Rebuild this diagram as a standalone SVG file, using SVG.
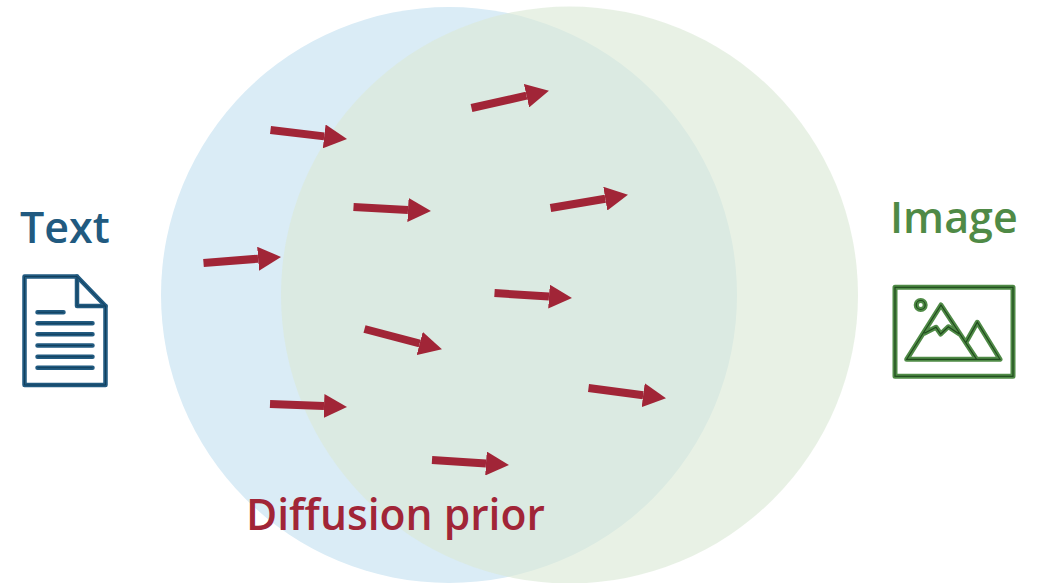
<svg xmlns="http://www.w3.org/2000/svg" width="1045" height="583" viewBox="0 0 1045 583">
<style>
text{font-family:"Open Sans","Noto Sans","DejaVu Sans",sans-serif;font-weight:600}
.a{stroke:#a12537;stroke-width:8;fill:none;marker-end:url(#h)}
.ds,.is{fill:none;stroke-linejoin:round;stroke-linecap:round}
.ds{stroke:#215a80;stroke-width:4.500}
.dt{fill:none;stroke:#123f5c;stroke-width:1}
.is{stroke:#4f8a46;stroke-width:5}
.it{fill:none;stroke:#1f4a1c;stroke-width:1.200}
</style>
<defs>
<marker id="h" markerUnits="userSpaceOnUse" markerWidth="24" markerHeight="24" refX="0" refY="12" orient="auto" viewBox="0 0 24 24"><path d="M0 0L23 12L0 24Z" fill="#a12537"/></marker>
<g id="docp"><path d="M24.5 276.5H77L105.5 306V385H24.5Z"/><path d="M77 276.5V306H105.5"/><path d="M37.500 312.300H63.500M37.500 323.300H92.500M37.500 334.300H92.500M37.500 345.500H92.500M37.500 356.700H92.500M37.500 367.700H92.500"/></g>
<g id="imgp"><rect x="895" y="287.300" width="118" height="89"/><circle cx="920.700" cy="305" r="4.500"/><path d="M906.700 359.300L941 305L976.700 359.300ZM966 342.300L977.300 322.300L1000 359.300H976.700M924.300 333.300L936 327.300L940.700 334L948.300 326.700L959.300 334"/></g>
</defs>
<g id="circles">
<circle id="blue-circle" cx="449" cy="295" r="288" fill="#daecf6"/>
<circle id="green-circle" cx="569.500" cy="295" r="288.500" fill="#dbe9d6" fill-opacity=".64"/>
</g>
<g id="connectors">
<line class="a" x1="270.500" y1="130" x2="324.200" y2="136.400"/>
<line class="a" x1="471.500" y1="108" x2="526.500" y2="95.700"/>
<line class="a" x1="353.500" y1="207" x2="408" y2="209.900"/>
<line class="a" x1="550.500" y1="208" x2="605.300" y2="198.700"/>
<line class="a" x1="203.500" y1="263" x2="258.100" y2="258.700"/>
<line class="a" x1="494.500" y1="293" x2="549" y2="296.600"/>
<line class="a" x1="364.500" y1="329" x2="419.700" y2="343.500"/>
<line class="a" x1="270" y1="404" x2="324" y2="406.100"/>
<line class="a" x1="588.500" y1="388" x2="643.200" y2="395.200"/>
<line class="a" x1="432" y1="460" x2="486" y2="463.500"/>
</g>
<g id="text-node">
<text x="20" y="243" font-size="43" fill="#215a80">Text</text>
<use href="#docp" class="ds"/>
<use href="#docp" class="dt"/>
</g>
<g id="image-node">
<text x="890" y="233" font-size="43" fill="#4f8a46">Image</text>
<use href="#imgp" class="is"/>
<use href="#imgp" class="it"/>
</g>
<g id="prior-label">
<text x="246" y="530" font-size="42.600" fill="#a12537">Diffusion prior</text>
</g>
</svg>
